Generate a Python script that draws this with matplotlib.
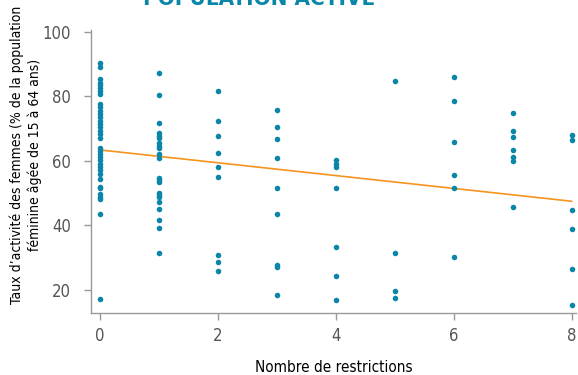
import matplotlib
matplotlib.use("Agg")
import matplotlib.pyplot as plt
import numpy as np

# Nombre de restrictions -> taux d'activité des femmes (%)
restr_0 = [90.4, 88.9, 85.4, 84.1, 83.3, 82.4, 81.5, 80.7, 77.6, 76.6, 75.5, 74.5,
           73.5, 72.4, 71.4, 70.4, 69.3, 68.3, 67.1, 63.8, 62.9, 62.1, 61.1, 60.1,
           59.0, 58.0, 57.0, 55.9, 54.2, 51.9, 51.5, 49.5, 48.7, 48.1, 43.4, 17.0]
restr_1 = [87.1, 80.3, 71.6, 68.5, 67.7, 66.9, 65.4, 64.6, 64.0, 62.1, 60.9, 54.7,
           53.9, 53.3, 49.9, 49.3, 48.7, 47.1, 45.0, 41.5, 39.1, 31.3]
restr_2 = [81.6, 72.4, 67.7, 62.3, 58.1, 55.0, 30.6, 28.7, 25.9]
restr_3 = [75.8, 70.4, 66.7, 60.8, 51.4, 43.3, 27.5, 27.0, 18.4]
restr_4 = [60.1, 59.0, 58.1, 51.6, 33.2, 24.2, 16.7]
restr_5 = [84.8, 31.2, 19.6, 17.5]
restr_6 = [85.8, 78.6, 65.9, 55.5, 51.4, 30.1]
restr_7 = [74.8, 69.3, 67.4, 63.2, 61.2, 59.8, 45.6]
restr_8 = [67.8, 66.5, 44.6, 38.8, 26.5, 15.1]
groups = [restr_0, restr_1, restr_2, restr_3, restr_4, restr_5, restr_6, restr_7, restr_8]

# droite de tendance (valeur en 0 et en 8)
trend_x = [0, 8]
trend_y = [63.3, 47.4]

x_ticks = [0, 2, 4, 6, 8]
y_ticks = [20, 40, 60, 80, 100]

plt.rcParams["font.family"] = ["DejaVu Sans", "Liberation Sans"]
plt.rcParams["font.stretch"] = "condensed"

fig = plt.figure(figsize=(5.78, 3.75), dpi=100)
ax = fig.add_axes([0.157, 0.165, 0.84, 0.755])

xs = np.concatenate([np.full(len(g), i) for i, g in enumerate(groups)])
ys = np.concatenate(groups)
ax.scatter(xs, ys, s=16, color="#0a86a8", zorder=3, linewidths=0)
ax.plot(trend_x, trend_y, color="#f7931e", linewidth=1.2, zorder=2)

ax.set_xlim(-0.16, 8.08)
ax.set_ylim(12.7, 100.5)
ax.set_xticks(x_ticks)
ax.set_yticks(y_ticks)

for side in ["top", "right"]:
    ax.spines[side].set_visible(False)
for side in ["left", "bottom"]:
    ax.spines[side].set_color("#999999")
    ax.spines[side].set_linewidth(1.0)
ax.tick_params(colors="#999999", labelcolor="#555555", labelsize=12, length=5, width=1)
ax.tick_params(axis="y", pad=9)
ax.tick_params(axis="x", pad=5)

ax.set_xlabel("Nombre de restrictions", fontsize=11, labelpad=11)
ax.set_ylabel("Taux d\u2019activité des femmes (% de la population\nféminine âgée de 15 à 64 ans)",
              fontsize=10, linespacing=1.3)
ax.yaxis.set_label_coords(-0.1, 0.56)

fig.text(0.448, 1.003, "POPULATION ACTIVE", ha="center", va="center", fontsize=16,
         fontweight="bold", color="#0a86a8")

fig.savefig("out.png", dpi=100)
